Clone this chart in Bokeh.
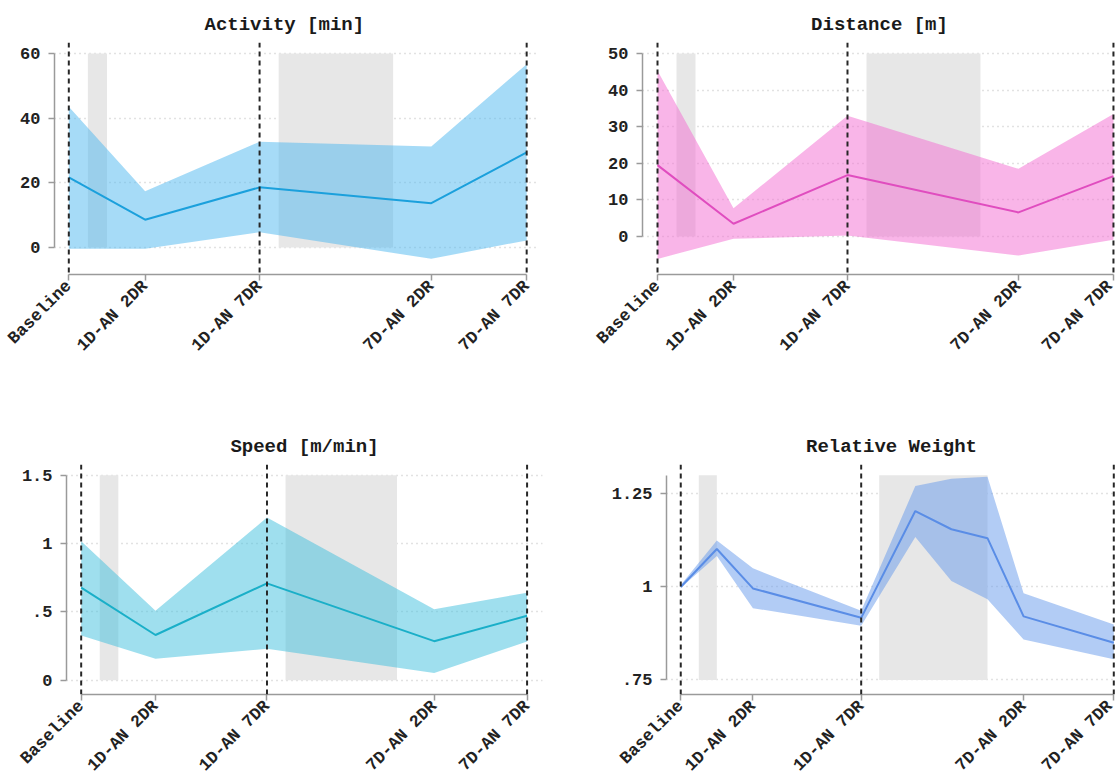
from math import pi
from bokeh.plotting import figure
from bokeh.models import Range1d, FixedTicker, Span
from bokeh.layouts import column, row
from bokeh.embed import file_html
from bokeh.resources import INLINE

# ---- data ----
x_pos = [0, 4, 10, 19, 24]
tick_labels = ["Baseline", "1D-AN 2DR", "1D-AN 7DR", "7D-AN 2DR", "7D-AN 7DR"]

activity_mean = [21.7, 8.6, 18.6, 13.7, 29.4]
activity_upper = [43.5, 17.4, 32.7, 31.2, 56.7]
activity_lower = [-0.4, -0.4, 4.7, -3.5, 2.2]

distance_mean = [19.5, 3.5, 16.8, 6.6, 16.5]
distance_upper = [45.3, 7.7, 33.0, 18.5, 33.5]
distance_lower = [-6.1, -0.6, 0.3, -5.2, -0.9]

speed_mean = [0.677, 0.331, 0.709, 0.286, 0.472]
speed_upper = [1.016, 0.508, 1.19, 0.52, 0.641]
speed_lower = [0.327, 0.157, 0.23, 0.053, 0.283]

weight_x = [0, 2, 4, 10, 13, 15, 17, 19, 24]
weight_mean = [1.0, 1.102, 0.996, 0.917, 1.204, 1.155, 1.131, 0.921, 0.850]
weight_upper = [1.005, 1.125, 1.05, 0.936, 1.271, 1.291, 1.296, 0.983, 0.899]
weight_lower = [0.998, 1.083, 0.943, 0.896, 1.134, 1.016, 0.967, 0.859, 0.806]

band_start = [1, 11]
band_end = [2, 17]
event_lines = [0, 10, 24]

FONT = "Liberation Mono"


def make_panel(title, x, mean, upper, lower, line_color, fill_color,
               xr, yr, ybounds, yticks, ylabels, width, height, borders,
               title_align="center", title_offset=0):
    p = figure(width=width, height=height, output_backend="svg",
               toolbar_location=None, x_range=Range1d(*xr), y_range=Range1d(*yr),
               min_border_left=borders[0], min_border_right=borders[1],
               min_border_top=borders[2], min_border_bottom=borders[3])
    p.outline_line_color = None
    p.background_fill_color = "white"
    p.border_fill_color = "white"

    p.title.text = title
    p.title.align = title_align
    p.title.offset = title_offset
    p.title.text_font = FONT
    p.title.text_font_style = "bold"
    p.title.text_font_size = "19px"
    p.title.text_color = "#1a1a1a"
    p.title.standoff = 14

    # shaded fasting periods
    p.quad(left=band_start, right=band_end, bottom=ybounds[0], top=ybounds[1],
           fill_color="#e7e7e7", line_color=None)

    p.varea(x=x, y1=lower, y2=upper, fill_color=fill_color, fill_alpha=0.5)
    p.line(x, mean, line_color=line_color, line_width=2)

    for loc in event_lines:
        p.add_layout(Span(location=loc, dimension="height", line_color="#262626",
                          line_width=2, line_dash="5 4"))

    # axes
    p.xgrid.grid_line_color = None
    p.ygrid.grid_line_color = "#c4c4c4"
    p.ygrid.grid_line_dash = "1 4"
    p.ygrid.grid_line_width = 1.5

    p.xaxis.ticker = FixedTicker(ticks=x_pos)
    p.xaxis.major_label_overrides = {t: l for t, l in zip(x_pos, tick_labels)}
    p.xaxis.major_label_orientation = pi / 4
    p.xaxis.bounds = (x_pos[0], x_pos[-1])
    p.xaxis.major_label_standoff = 3

    p.yaxis.ticker = FixedTicker(ticks=yticks)
    p.yaxis.major_label_overrides = {t: l for t, l in zip(yticks, ylabels)}
    p.yaxis.bounds = ybounds
    p.yaxis.major_label_standoff = 8

    for ax in (p.xaxis, p.yaxis):
        ax.axis_line_color = "#9a9a9a"
        ax.axis_line_width = 1.5
        ax.major_tick_line_color = "#9a9a9a"
        ax.major_tick_line_width = 1.5
        ax.major_tick_out = 6
        ax.major_tick_in = 0
        ax.minor_tick_line_color = None
        ax.major_label_text_font = FONT
        ax.major_label_text_font_style = "bold"
        ax.major_label_text_font_size = "17px"
        ax.major_label_text_color = "#222222"
    return p


p1 = make_panel("Activity [min]", x_pos, activity_mean, activity_upper, activity_lower,
                "#1ba0dc", "#4db8f0",
                (-0.75, 24.62), (-8.35, 63.4), (0, 60), [0, 20, 40, 60],
                ["0", "20", "40", "60"], 558, 392, (54, 20, 42, 118),
                title_align="left", title_offset=150)

p2 = make_panel("Distance [m]", x_pos, distance_mean, distance_upper, distance_lower,
                "#e04dbf", "#f36bd1",
                (-0.79, 24.16), (-10.36, 53.0), (0, 50), [0, 10, 20, 30, 40, 50],
                ["0", "10", "20", "30", "40", "50"], 558, 392, (84, 0, 42, 118))

p3 = make_panel("Speed [m/min]", x_pos, speed_mean, speed_upper, speed_lower,
                "#1aafc8", "#40bfdd",
                (-0.79, 24.83), (-0.104, 1.578), (0, 1.5), [0, 0.5, 1, 1.5],
                ["0", ".5", "1", "1.5"], 558, 392, (66, 16, 72, 88))

p4 = make_panel("Relative Weight", weight_x, weight_mean, weight_upper, weight_lower,
                "#5a8de6", "#6699eb",
                (-0.79, 24.15), (0.711, 1.329), (0.75, 1.30), [0.75, 1, 1.25],
                [".75", "1", "1.25"], 558, 392, (108, 0, 72, 88))

layout = column(row(p1, p2), row(p3, p4))

open("out.html", "w").write(file_html(layout, INLINE))
